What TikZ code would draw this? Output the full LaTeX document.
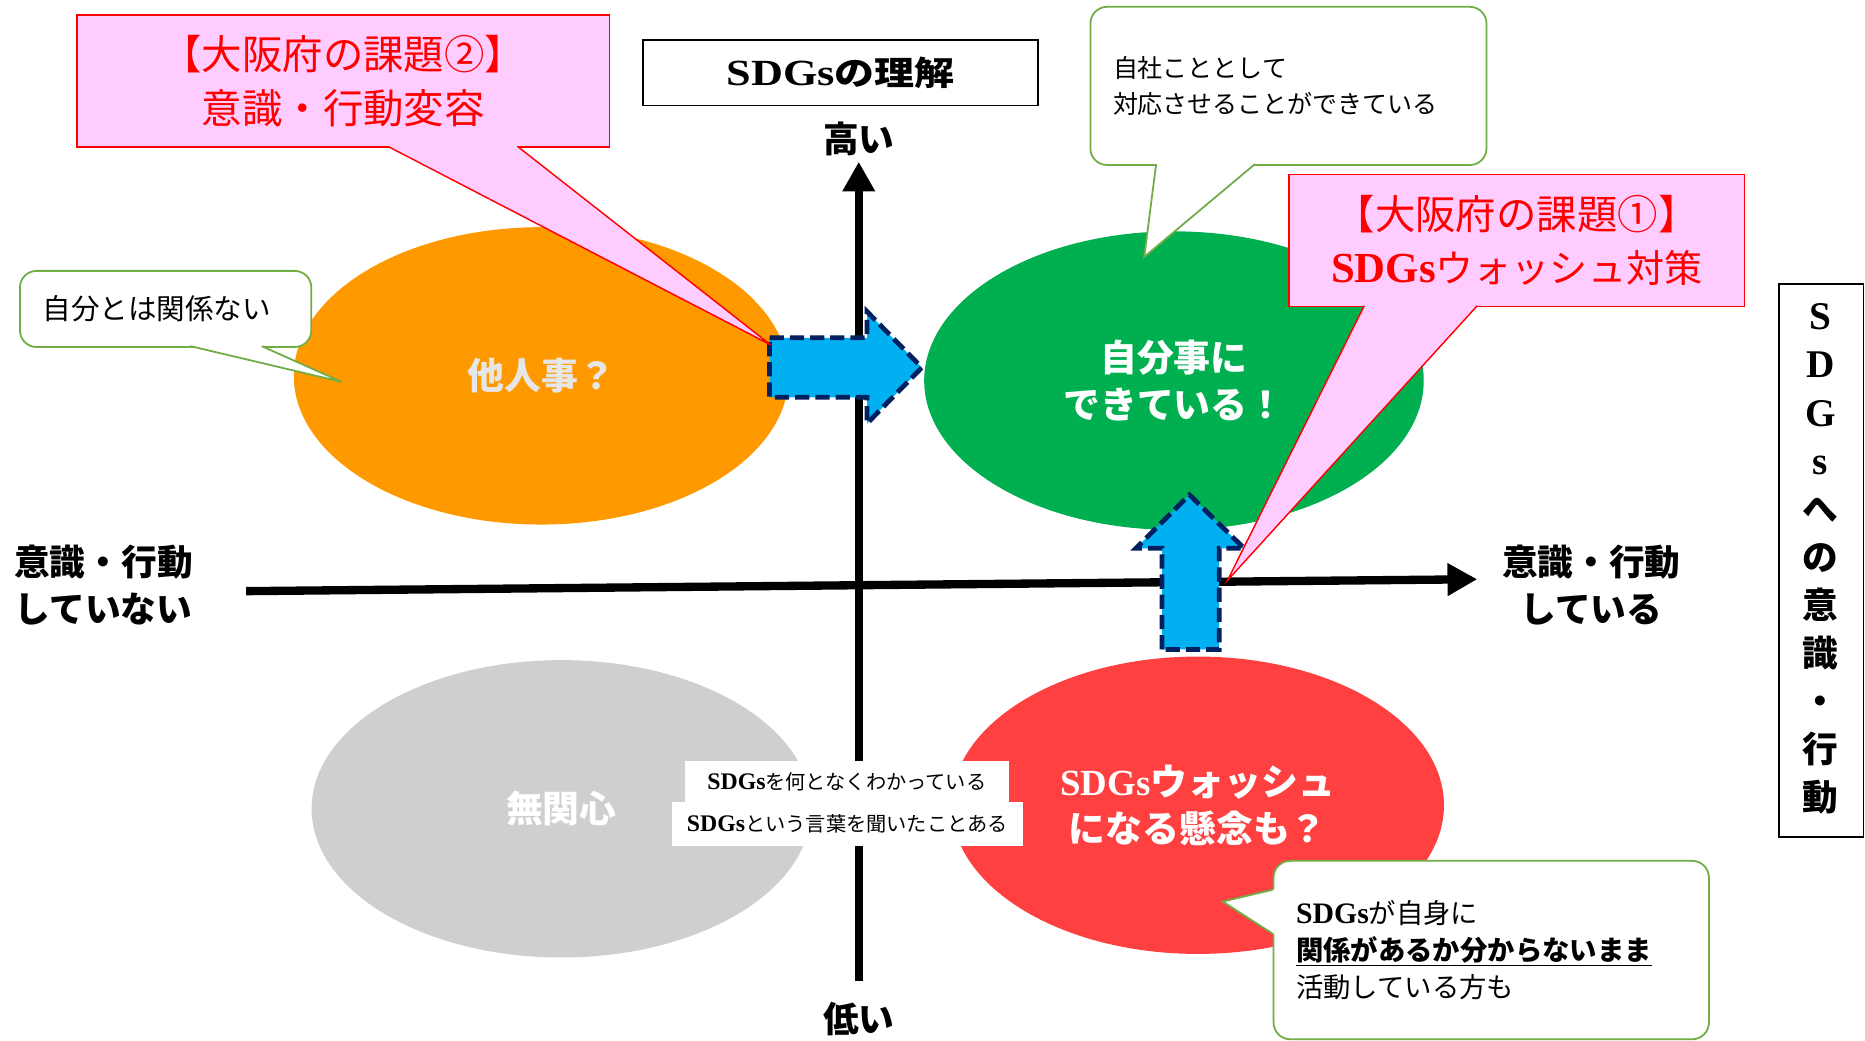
\documentclass[tikz,border=0pt]{standalone}
\usepackage{fontspec}
\usepackage{graphicx}
\usetikzlibrary{arrows.meta,shapes.geometric}
\newfontfamily\jp{Noto Sans CJK JP}
\newfontfamily\sdgf{Liberation Serif}
\newcommand\SDG{{\sdgf\bfseries SDGs}}
\newcommand\fsz[2]{\fontsize{#1}{#2}\selectfont}
\definecolor{cOrange}{RGB}{255,153,0}
\definecolor{cGreen}{RGB}{0,176,80}
\definecolor{cGray}{RGB}{208,206,206}
\definecolor{cRed}{RGB}{255,64,64}
\definecolor{cPink}{RGB}{255,204,255}
\definecolor{cBlue}{RGB}{0,176,240}
\definecolor{cNavy}{RGB}{0,32,96}
\definecolor{cCall}{RGB}{112,173,71}
\definecolor{cLight}{RGB}{231,230,230}
\tikzset{
  blob/.style={ellipse, inner sep=0pt, align=center, text=white, font=\jp\bfseries\fsz{31}{40}},
  pinkbox/.style={draw=red, line width=1.2pt, fill=cPink, anchor=north west, align=center, text=red, inner sep=0pt, font=\jp\fsz{34}{45}},
  gcall/.style={draw=cCall, line width=1.5pt, fill=white, rounded corners=14pt, anchor=north west, inner xsep=19pt, inner ysep=0pt, align=left},
  axis/.style={line width=7pt, -{Triangle[length=25pt,width=26pt]}},
  blockarrow/.style={fill=cBlue, draw=cNavy, line width=4pt, dash pattern=on 12pt off 5pt, line join=miter},
  axlabel/.style={align=center, font=\jp\bfseries\fsz{30}{40}},
  tag/.style={fill=white, inner sep=0pt, font=\jp\fsz{17}{20}},
}
\begin{document}
\begin{tikzpicture}[x=1pt,y=-1pt]
\useasboundingbox (0,0) rectangle (1568,875);
\fill[white] (0,0) rectangle (1568,875);

% ellipses
\node[blob, fill=cOrange, minimum width=416pt, minimum height=250pt, text=cLight] (other) at (455,316) {他人事？};
\node[blob, fill=cGreen, minimum width=420pt, minimum height=251pt] (own) at (987,320) {自分事に\\できている！};
\node[blob, fill=cGray, minimum width=420pt, minimum height=250pt] (none) at (472,680) {無関心};
\node[blob, fill=cRed, minimum width=414pt, minimum height=250pt] (wash) at (1007,677) {\SDG ウォッシュ\\になる懸念も？};

% axes
\coordinate (xL) at (207,497);
\coordinate (xR) at (1242,487);
\coordinate (yB) at (722,825);
\coordinate (yT) at (722,136);
\draw[axis] (xL) -- (xR);
\draw[axis] (yB) -- (yT);

% block arrows
\draw[blockarrow] (647,284) -- (729,284) -- (729,262) -- (775,309) -- (729,356) -- (729,334) -- (647,334) -- cycle;
\draw[blockarrow] (977,546) -- (977,461) -- (955,461) -- (1000,416) -- (1046,461) -- (1025,461) -- (1025,546) -- cycle;

% axis labels
\node[axlabel] (high) at (722,117) {高い};
\node[axlabel] (low) at (722,857) {低い};
\node[axlabel] (leftlab) at (87,492) {意識・行動\\していない};
\node[axlabel] (rightlab) at (1338,492) {意識・行動\\している};

% understanding box
\node[draw, line width=1.3pt, minimum width=332pt, minimum height=55pt, anchor=north west, inner sep=0pt] (theme) at (540,33)
  {\scalebox{1.2}[1]{\jp\bfseries\fsz{28}{28}{\sdgf\bfseries\fsz{31}{28}SDGs}の理解}};

% white tags
\node[tag, minimum width=272pt, minimum height=34pt] (tag1) at (712,657) {{\sdgf\bfseries\fsz{20}{20}SDGs}を何となくわかっている};
\node[tag, minimum width=295pt, minimum height=37pt] (tag2) at (712.5,692.5) {{\sdgf\bfseries\fsz{20}{20}SDGs}という言葉を聞いたことある};

% pink callout 2
\node[pinkbox, minimum width=448pt, minimum height=111pt] (task2) at (64,12) {【大阪府の課題②】\\意識・行動変容};
\fill[cPink] (326,120) -- (326,123) -- (648,290) -- (435,123) -- (435,120) -- cycle;
\draw[red, line width=1.2pt, line join=miter] (326,123) -- (648,290) -- (435,123);

% pink callout 1
\node[pinkbox, minimum width=383pt, minimum height=111pt] (task1) at (1083,146) {【大阪府の課題①】\\{\sdgf\bfseries\fsz{36}{45}SDGs}{\fsz{32}{45}ウォッシュ対策}};
\fill[cPink] (1147,254) -- (1147,257) -- (1032,488) -- (1242,257) -- (1242,254) -- cycle;
\draw[red, line width=1.2pt, line join=miter] (1147,257) -- (1032,488) -- (1242,257);

% green callouts
\node[gcall, minimum width=245pt, minimum height=64pt, text width=207pt, font=\jp\fsz{24}{30}] (call1) at (16,227) {自分とは関係ない};
\fill[white] (160,288) -- (160,291) -- (287,321) -- (220,291) -- (220,288) -- cycle;
\draw[cCall, line width=1.5pt] (160,291) -- (287,321) -- (220,291);

\node[gcall, minimum width=333pt, minimum height=133pt, text width=295pt, font=\jp\fsz{21}{31}] (call2) at (916,5) {自社こととして\\対応させることができている};
\fill[white] (972,135) -- (972,138) -- (962,216) -- (1055,138) -- (1055,135) -- cycle;
\draw[cCall, line width=1.5pt] (972,138) -- (962,216) -- (1055,138);

\node[gcall, minimum width=366pt, minimum height=150pt, text width=328pt, font=\jp\fsz{23}{31}] (call3) at (1070,723) {{\sdgf\bfseries\fsz{25}{31}SDGs}が自身に\\{\bfseries\underline{関係があるか分からないまま}}\\活動している方も};
\fill[white] (1073,748) -- (1070,748) -- (1028,758) -- (1070,785) -- (1073,785) -- cycle;
\draw[cCall, line width=1.5pt] (1070,748) -- (1028,758) -- (1070,785);

% vertical label
\node[draw, line width=1.3pt, minimum width=71pt, minimum height=465pt, anchor=north west, inner sep=0pt] (side) at (1495,238) {};
\node[align=center, inner sep=0pt, font=\jp\bfseries\fsz{30}{40.4}] (sidetext) at (1530.5,470) {{\sdgf\fsz{33}{40.4}S}\\{\sdgf\fsz{33}{40.4}D}\\{\sdgf\fsz{33}{40.4}G}\\{\sdgf\fsz{33}{40.4}s}\\へ\\の\\意\\識\\・\\行\\動};
\end{tikzpicture}
\end{document}
